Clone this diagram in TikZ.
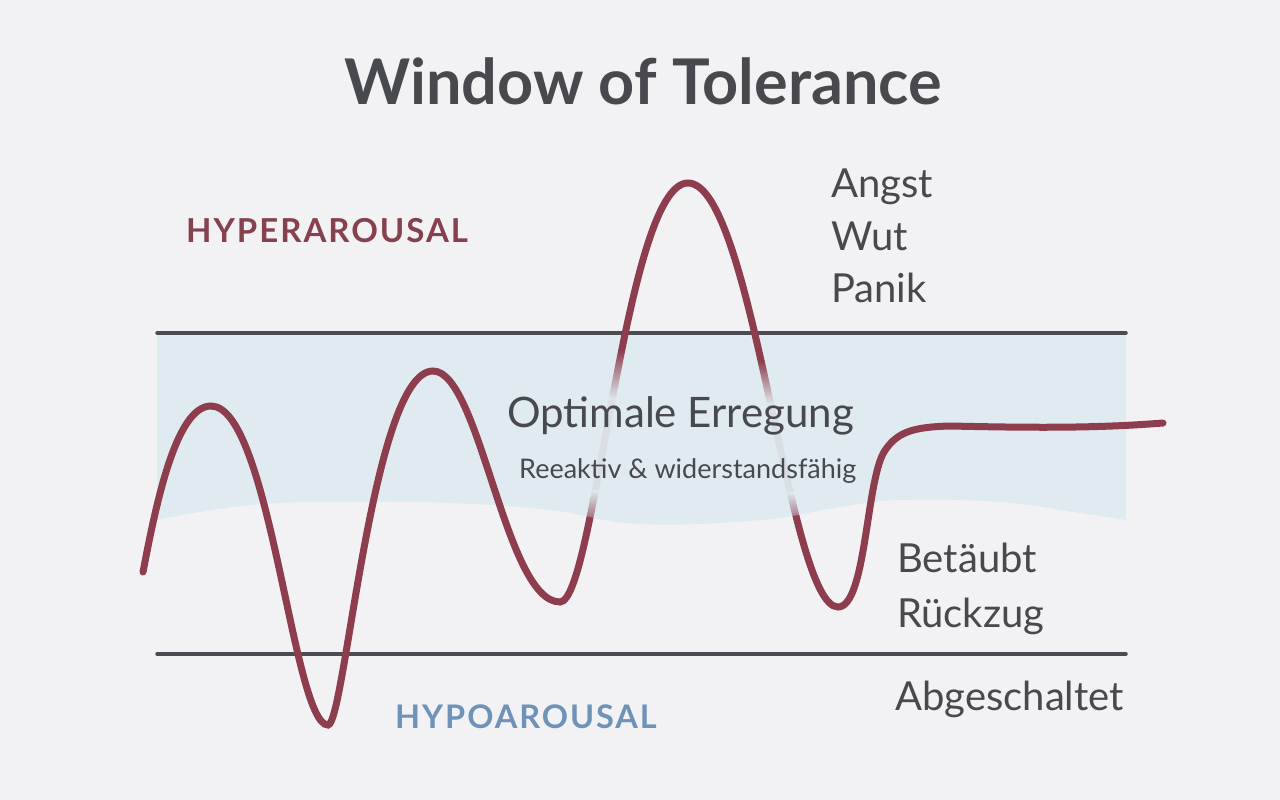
\documentclass[tikz,border=0pt]{standalone}
\usepackage{fontspec}
\setmainfont{Lato}
\newfontfamily\capsfont[LetterSpace=6]{Lato}
\usetikzlibrary{fadings}
\definecolor{bgc}{HTML}{F2F2F4}
\definecolor{bandc}{HTML}{E0EBF1}
\definecolor{wavec}{HTML}{8D3D4E}
\definecolor{linec}{HTML}{4B4C53}
\definecolor{txtc}{HTML}{48494F}
\definecolor{hyperc}{HTML}{86414F}
\definecolor{hypoc}{HTML}{6F93B8}
\tikzfading[name=fadedown, top color=transparent!100, bottom color=transparent!0]
\tikzfading[name=fadeup, top color=transparent!0, bottom color=transparent!100]
\tikzset{
  gline/.style={draw=linec, line width=3.5pt, line cap=round},
  wave/.style={draw=wavec, line width=7pt, line cap=round},
  lbl/.style={text=txtc, anchor=base west, inner sep=0pt, font=\fontsize{40}{44}\selectfont},
}
\begin{document}
\begin{tikzpicture}[x=1pt, y=-1pt]
\useasboundingbox (0,0) rectangle (1280,800);
\fill[bgc] (0,0) rectangle (1280,800);
% band
\fill[bandc] (157,333) -- (1126,333) -- (1126,520) -- plot[smooth, tension=0.7] coordinates {(1126,520) (1080,513) (1000,502) (900,500) (840,507) (760,520) (640,524) (550,510) (450,503) (350,502) (250,505) (157,520)} -- cycle;
% lines
\draw[gline] (157,333) -- (1126,333);
\draw[gline] (157,654) -- (1126,654);
% wave
\draw[wave] (143,572) .. controls (155,510) and (175,406) .. (211,406)
  .. controls (270,406) and (293,725) .. (328,725)
  .. controls (345,725) and (372,371) .. (433,371)
  .. controls (480,371) and (505,602) .. (560,602)
  .. controls (595,602) and (625,183) .. (688,183)
  .. controls (753,183) and (788,607) .. (838,607)
  .. controls (866,607) and (866,482) .. (884,452)
  .. controls (897,431) and (915,427) .. (950,426)
  .. controls (1040,428) and (1100,428) .. (1163,423);
% fades where the wave crosses the window
\begin{scope}
\clip (157,337) -- (1126,337) -- (1126,520) -- plot[smooth, tension=0.7] coordinates {(1126,520) (1080,513) (1000,502) (900,500) (840,507) (760,520) (640,524) (550,510) (450,503) (350,502) (250,505) (157,520)} -- cycle;
\fill[bandc, path fading=fadedown] (575,350) rectangle (640,400);
\fill[bandc, fill opacity=0.93] (575,400) rectangle (640,490);
\fill[bandc, path fading=fadeup] (575,490) rectangle (640,530);
\fill[bandc, path fading=fadedown] (740,360) rectangle (810,405);
\fill[bandc, fill opacity=0.93] (740,405) rectangle (810,492);
\fill[bandc, path fading=fadeup] (740,492) rectangle (810,530);
\end{scope}
% texts
\node[text=txtc, anchor=base, inner sep=0pt, font=\fontsize{63}{66}\selectfont\bfseries] (title) at (643,104) {Window of Tolerance};
\node[text=hyperc, anchor=base west, inner sep=0pt, font=\capsfont\bfseries\fontsize{33}{36}\selectfont] (hyper) at (186,242) {HYPERAROUSAL};
\node[text=hypoc, anchor=base west, inner sep=0pt, font=\capsfont\bfseries\fontsize{32.5}{36}\selectfont] (hypo) at (395,728) {HYPOAROUSAL};
\node[lbl] (angst) at (831,197) {Angst};
\node[lbl] (wut) at (831,250) {Wut};
\node[lbl] (panik) at (831,302) {Panik};
\node[lbl] (bet) at (897,572) {Betäubt};
\node[lbl] (rueck) at (897,627) {Rückzug};
\node[lbl] (abg) at (895,710) {Abgeschaltet};
\node[lbl, font=\fontsize{42}{45}\selectfont] (opt) at (507,427) {Optimale Erregung};
\node[lbl, font=\fontsize{27}{30}\selectfont] (reak) at (519,478) {Reeaktiv \& widerstandsfähig};
\end{tikzpicture}
\end{document}
